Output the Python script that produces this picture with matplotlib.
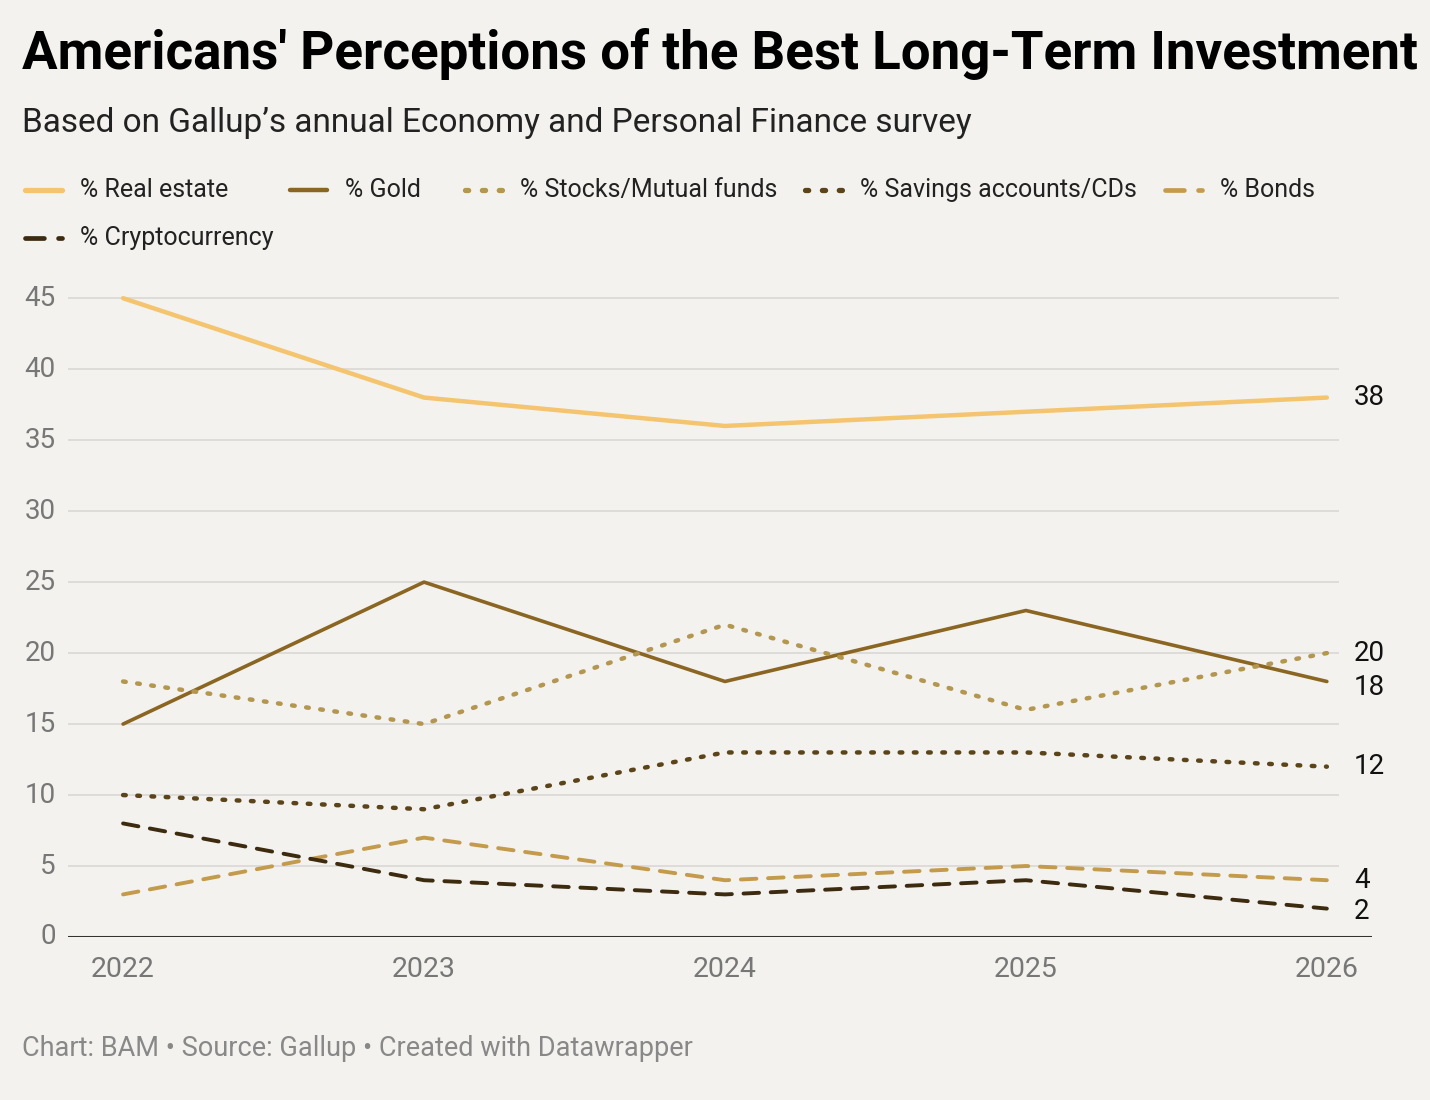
import matplotlib

matplotlib.use("Agg")
import matplotlib.pyplot as plt
from matplotlib import font_manager
from matplotlib.lines import Line2D

installed = {f.name for f in font_manager.fontManager.ttflist}
NARROW = "Liberation Sans Narrow" if "Liberation Sans Narrow" in installed else "Roboto"

years = [2022, 2023, 2024, 2025, 2026]

real_estate = [45, 38, 36, 37, 38]
gold = [15, 25, 18, 23, 18]
stocks = [18, 15, 22, 16, 20]
savings = [10, 9, 13, 13, 12]
bonds = [3, 7, 4, 5, 4]
crypto = [8, 4, 3, 4, 2]

labels = [
    "% Real estate",
    "% Gold",
    "% Stocks/Mutual funds",
    "% Savings accounts/CDs",
    "% Bonds",
    "% Cryptocurrency",
]
yticks = [0, 5, 10, 15, 20, 25, 30, 35, 40, 45]

BG = "#f3f2ee"

series = [
    (real_estate, "#f5c46e", "-", 3.2),
    (gold, "#8b6622", "-", 2.6),
    (stocks, "#b3964f", (0, (0.6, 2.6)), 3.2),
    (savings, "#5b4419", (0, (0.6, 2.6)), 3.2),
    (bonds, "#c49b4c", (0, (4, 3)), 2.8),
    (crypto, "#3d2b10", (0, (4, 3)), 2.8),
]

fig = plt.figure(figsize=(14.3, 11), dpi=100, facecolor=BG)
ax = fig.add_axes([68 / 1430, 163 / 1100, 1304 / 1430, 653 / 1100])
ax.set_facecolor(BG)

for vals, color, ls, lw in series:
    ax.plot(years, vals, color=color, linestyle=ls, linewidth=lw,
            solid_capstyle="round", dash_capstyle="round", zorder=3)

x0, x1 = 2021.817, 2026.15
ax.set_xlim(x0, x1)
ax.set_ylim(0, 46)

for y in yticks[1:]:
    ax.hlines(y, x0, 2026.04, color="#d9d8d4", linewidth=1.2, zorder=1)
ax.axhline(0, color="#333333", linewidth=2.2, zorder=4)

for s in ax.spines.values():
    s.set_visible(False)
ax.set_xticks(years)
ax.set_xticklabels([str(y) for y in years], fontsize=20.5, color="#777777",
                   family=NARROW)
ax.set_yticks([])
ax.tick_params(axis="x", length=0, pad=14)

# y tick labels sit left of the gridlines
for y in yticks:
    ax.text(x0 - 0.04, y, str(y), ha="right", va="center", fontsize=20,
            color="#777777", family=NARROW)

# end labels
end_labels = [
    (real_estate[-1], real_estate[-1]),
    (stocks[-1], stocks[-1]),
    (gold[-1], gold[-1] - 0.4),
    (savings[-1], savings[-1]),
    (bonds[-1], bonds[-1]),
    (crypto[-1], crypto[-1] - 0.2),
]
for val, ypos in end_labels:
    ax.text(2026.09, ypos, str(val), ha="left", va="center", fontsize=20,
            color="#111111", family=NARROW)

# title, subtitle
fig.text(22 / 1430, 1 - 54 / 1100, "Americans' Perceptions of the Best Long-Term Investment",
         fontsize=38.1, fontweight="bold", color="#000000", family=NARROW,
         va="center", ha="left")
fig.text(22 / 1430, 1 - 123 / 1100,
         "Based on Gallup\u2019s annual Economy and Personal Finance survey",
         fontsize=24, color="#222222", family="Roboto", va="center", ha="left")

# legend
legend_pos = [(25, 190), (290, 190), (465, 190), (805, 190), (1165, 190), (25, 238)]
for (vals, color, ls, lw), label, (lx, ly) in zip(series, labels, legend_pos):
    yf = 1 - ly / 1100
    fig.add_artist(Line2D([lx / 1430, (lx + 37) / 1430], [yf, yf], color=color,
                          linestyle=ls, linewidth=lw + 0.6,
                          solid_capstyle="round", dash_capstyle="round"))
    fig.text((lx + 55) / 1430, yf, label, fontsize=18, color="#222222",
             family=NARROW, va="center", ha="left")

fig.text(22 / 1430, 1 - 1048 / 1100,
         "Chart: BAM \u2022 Source: Gallup \u2022 Created with Datawrapper",
         fontsize=19.5, color="#888888", family="Roboto", va="center", ha="left")

fig.savefig("out.png", dpi=100, facecolor=BG)
